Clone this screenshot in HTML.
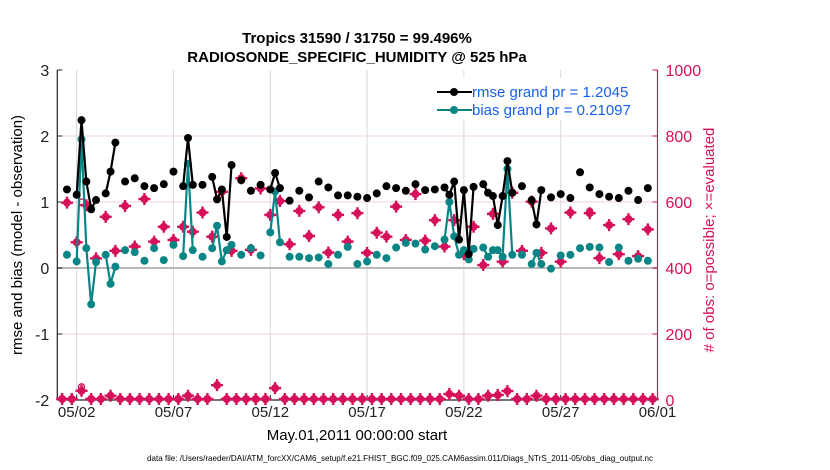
<!DOCTYPE html>
<html><head><meta charset="utf-8">
<style>
html,body{margin:0;padding:0;background:#fff;}
svg{display:block;font-family:"Liberation Sans",sans-serif;}
</style></head>
<body>
<svg id="chart" width="830" height="470" viewBox="0 0 830 470" xmlns="http://www.w3.org/2000/svg">
<text x="357" y="43" text-anchor="middle" font-size="15" font-weight="bold">Tropics 31590 / 31750 = 99.496%</text>
<text x="357" y="62" text-anchor="middle" font-size="15" font-weight="bold">RADIOSONDE_SPECIFIC_HUMIDITY @ 525 hPa</text>
<g id="grid"></g>
<g id="axes"></g>
<g id="marks"></g>
<text x="357" y="440" text-anchor="middle" font-size="15">May.01,2011 00:00:00 start</text>
<text transform="translate(22,235) rotate(-90)" text-anchor="middle" font-size="15">rmse and bias (model - observation)</text>
<text transform="translate(714,240) rotate(-90)" text-anchor="middle" font-size="15" fill="#d6105a"># of obs: o=possible; ×=evaluated</text>
<text x="400" y="461" text-anchor="middle" font-size="8.5" textLength="506" lengthAdjust="spacingAndGlyphs">data file: /Users/raeder/DAI/ATM_forcXX/CAM6_setup/f.e21.FHIST_BGC.f09_025.CAM6assim.011/Diags_NTrS_2011-05/obs_diag_output.nc</text>
<g>
  <rect x="412" y="78" width="243" height="42" fill="#fff"/>
  <line x1="437" y1="92" x2="472" y2="92" stroke="#000" stroke-width="2"/>
  <circle cx="454" cy="92" r="4" fill="#000"/>
  <text x="472" y="97" font-size="15" fill="#1560f0">rmse grand pr = 1.2045</text>
  <line x1="437" y1="110" x2="472" y2="110" stroke="#0a8585" stroke-width="2"/>
  <circle cx="454" cy="110" r="4" fill="#0a8585"/>
  <text x="472" y="115" font-size="15" fill="#1560f0">bias grand pr = 0.21097</text>
</g>
</svg>
<script>
// time step index j: hour = 12 + 6*j from May 1 00Z
const rmseSteps=[0,2,3,4,5,6,8,9,10,12,14,16,18,20,22,24,25,26,28,30,31,32,33,34,36,38,40,42,43,44,46,48,50,52,54,56,58,60,62,64,66,68,70,72,74,76,78,79,80,81,82,83,84,86,87,88,89,90,91,92,94,96,97,98,100,102,104,106,108,110,112,114,116,118,120];
const rmseVals=[1.19,1.11,2.24,1.31,0.89,1.03,1.13,1.46,1.90,1.31,1.36,1.24,1.21,1.27,1.46,1.24,1.97,1.26,1.26,1.38,1.04,1.19,0.47,1.56,1.33,1.17,1.26,1.19,1.44,1.21,1.02,1.17,1.07,1.31,1.22,1.10,1.10,1.08,1.06,1.13,1.24,1.21,1.17,1.27,1.18,1.19,1.22,1.11,1.31,0.43,1.18,0.21,1.23,1.27,1.14,1.09,0.65,1.09,1.62,1.14,1.24,1.03,0.66,1.18,1.07,1.12,1.06,1.45,1.22,1.12,1.08,1.06,1.17,1.03,1.21];
const biasVals=[0.2,0.10,1.95,0.30,-0.55,0.09,0.2,-0.24,0.02,0.27,0.24,0.11,0.30,0.12,0.35,0.18,1.58,0.27,0.17,0.30,0.64,0.10,0.27,0.35,0.2,0.3,0.19,0.54,1.16,0.39,0.17,0.17,0.15,0.16,0.06,0.20,0.32,0.06,0.10,0.2,0.15,0.31,0.38,0.37,0.28,0.33,0.43,1.0,0.48,0.2,0.27,0.13,0.29,0.31,0.17,0.27,0.27,0.17,1.5,0.2,0.2,0.06,0.23,0.06,-0.01,0.19,0.2,0.3,0.32,0.31,0.09,0.31,0.11,0.14,0.11];
const obsSteps=[0,2,4,6,8,10,12,14,16,18,20,22,24,26,28,30,32,34,36,38,40,42,44,46,48,50,52,54,56,58,60,62,64,66,68,70,72,74,76,78,80,82,84,86,88,90,92,94,96,98,100,102,104,108,110,112,114,116,118,120];
const obsVals=[598,478,590,429,555,452,588,465,609,480,525,485,525,510,568,495,631,452,672,455,641,561,603,472,573,497,584,447,561,480,566,446,507,495,586,485,624,483,545,465,545,442,525,409,564,419,628,452,601,446,520,419,568,566,430,530,442,548,436,517];
const possSteps=[3,108];
const possVals=[600,572];
// lower counts at odd steps j = -1,1,3,...,121
const lowVals=[3,3,28,3,3,13,3,3,3,3,3,3,3,13,3,3,45,3,3,3,3,3,36,3,3,3,3,3,3,3,3,3,3,3,3,3,3,3,3,3,18,13,3,3,13,15,27,3,3,13,3,3,3,3,3,3,3,3,3,3,3,3];
const lowPoss=[{k:2,v:40}];
const dayLabels=["05/02","05/07","05/12","05/17","05/22","05/27","06/01"];
const dayValues=[1,6,11,16,21,26,31];
const leftTicks=[3,2,1,0,-1,-2];
const rightTicks=[0,200,400,600,800,1000];

const NS="http://www.w3.org/2000/svg";
const L=57.3,R=657.5,T=70,B=400;
const xH=h=>L+(R-L)*h/744;
const xStep=j=>xH(12+6*j);
const yL=v=>B-(v+2)*(B-T)/5;
const yR=v=>B-v*(B-T)/1000;
function mk(tag,attrs,parent){const e=document.createElementNS(NS,tag);for(const k in attrs)e.setAttribute(k,attrs[k]);parent.appendChild(e);return e;}
const grid=document.getElementById('grid'),axes=document.getElementById('axes'),marks=document.getElementById('marks');
const PINK="#d6105a",TEAL="#0a8585";

dayLabels.forEach((lab,i)=>{
  const x=xH(dayValues[i]*24);
  const g=mk('line',{x1:x,x2:x,y1:T,y2:B,stroke:'#d8d8d8','stroke-width':1},grid);
  
  
  const t=mk('line',{x1:x,x2:x,y1:B,y2:B-5,stroke:'#222','stroke-width':1},axes);
  
  
  const tx=mk('text',{x:x,y:B+17,'text-anchor':'middle','font-size':15,fill:'#222'},axes);
  tx.textContent=lab;
  
  
});
rightTicks.forEach(v=>{
  const y=yR(v);
  if(v>0&&v<1000&&v!==400){
    const g=mk('line',{x1:L,x2:R,y1:y,y2:y,stroke:'#f2d2dc','stroke-width':1},grid);
    
    
  }
  const t=mk('line',{x1:R,x2:R-5,y1:y,y2:y,stroke:PINK,'stroke-width':1},axes);
  
  
  const tx=mk('text',{x:R+8,y:y+6,'font-size':16,fill:PINK},axes);
  tx.textContent=v;
  
  
});
leftTicks.forEach(v=>{
  const y=yL(v);
  const t=mk('line',{x1:L,x2:L+5,y1:y,y2:y,stroke:'#222','stroke-width':1},axes);
  
  
  const tx=mk('text',{x:L-8,y:y+6,'text-anchor':'end','font-size':16,fill:'#222'},axes);
  tx.textContent=v;
  
  
});
const zl=mk('line',{x1:L,x2:R,y1:yL(0),y2:yL(0),stroke:'#b8b8b8','stroke-width':2},grid);


const la=mk('line',{x1:L,x2:L,y1:T,y2:B,stroke:'#222','stroke-width':1.2},axes);


const ba=mk('line',{x1:L,x2:R,y1:B,y2:B,stroke:'#222','stroke-width':1.2},axes);


const ra=mk('line',{x1:R,x2:R,y1:T,y2:B,stroke:PINK,'stroke-width':1.2},axes);



function star(x,y,parent){
  const g=mk('g',{},parent);
  mk('circle',{cx:x,cy:y,r:4,fill:PINK},g);
  mk('path',{d:`M${x-6} ${y}H${x+6}M${x} ${y-6}V${y+6}`,stroke:PINK,'stroke-width':2.4},g);
  return g;
}
obsSteps.forEach((j,i)=>{
  const g=star(xStep(j),yR(obsVals[i]),marks);
  
  
});
possSteps.forEach((j,i)=>{
  const c=mk('circle',{cx:xStep(j),cy:yR(possVals[i]),r:3,fill:'none',stroke:PINK,'stroke-width':1.3},marks);
  
  
});
lowVals.forEach((v,k)=>{
  const g=star(xStep(2*k-1),yR(v),marks);
  
  
});
lowPoss.forEach(p=>{
  const c=mk('circle',{cx:xStep(2*p.k-1),cy:yR(p.v),r:3,fill:'none',stroke:PINK,'stroke-width':1.3},marks);
  
  
});
function series(vals,color,name){
  let d='';
  rmseSteps.forEach((j,i)=>{
    const x=xStep(j),y=yL(vals[i]);
    d+=(i>0&&rmseSteps[i-1]===j-1)?`L${x} ${y}`:`M${x} ${y}`;
  });
  const p=mk('path',{d:d,fill:'none',stroke:color,'stroke-width':2.2},marks);
  
  
  rmseSteps.forEach((j,i)=>{
    const c=mk('circle',{cx:xStep(j),cy:yL(vals[i]),r:4,fill:color},marks);
    
    
  });
}
series(biasVals,TEAL,'bias');
series(rmseVals,'#000','rmse');
</script>
</body></html>
